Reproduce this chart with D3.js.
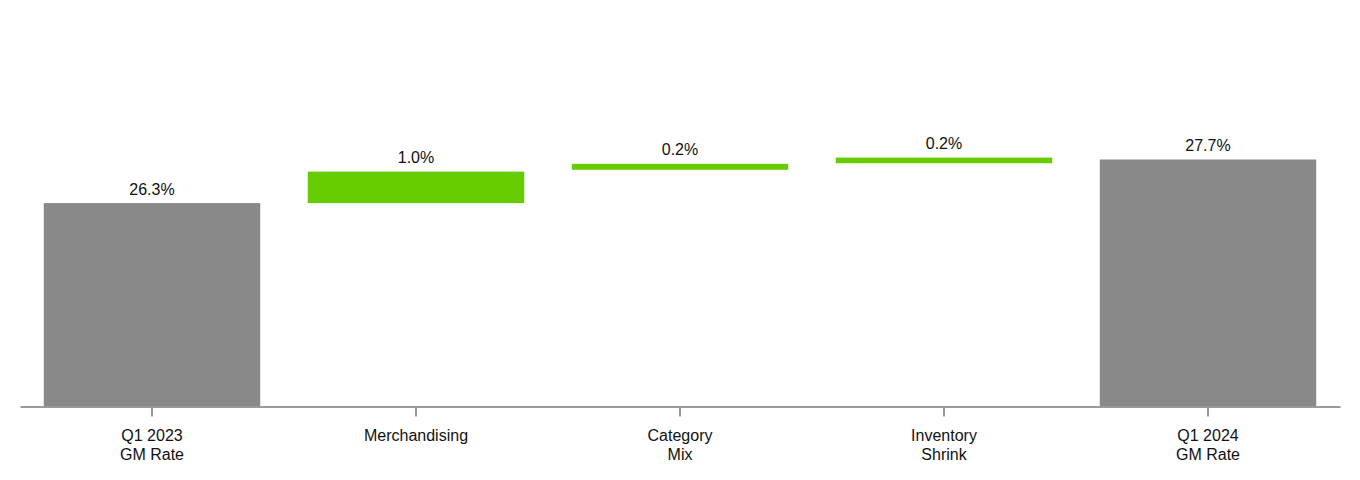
<!DOCTYPE html>
<html>
<head>
<meta charset="utf-8">
<script src="https://cdn.jsdelivr.net/npm/d3@7"></script>
<style>
  html, body { margin: 0; padding: 0; background: #fff; }
  svg { display: block; }
  text { font-family: "Liberation Sans", Arial, sans-serif; }
</style>
</head>
<body>
<svg id="chart" width="1360" height="480"></svg>
<script>
// ---- data ----
const categories = ["Q1 2023\nGM Rate", "Merchandising", "Category\nMix", "Inventory\nShrink", "Q1 2024\nGM Rate"];
const barKinds   = ["total", "delta", "delta", "delta", "total"];
const barLows    = [19.77, 26.30, 27.37, 27.58, 19.77];
const barHighs   = [26.30, 27.31, 27.56, 27.76, 27.70];
const barLabels  = ["26.3%", "1.0%", "0.2%", "0.2%", "27.7%"];
const yDomain    = [19.77, 32.82];

const colors = { total: "#898989", delta: "#66cc00" };

const svg = d3.select("#chart");
const x = d3.scaleBand().domain(categories).range([20, 1340]).paddingInner(0.18).paddingOuter(0.09);
const y = d3.scaleLinear().domain(yDomain).range([406.5, 0]);

const data = categories.map((c, i) => ({ c, kind: barKinds[i], lo: barLows[i], hi: barHighs[i], label: barLabels[i] }));

svg.append("g").selectAll("rect").data(data).join("rect")
  .attr("x", d => x(d.c))
  .attr("width", x.bandwidth())
  .attr("y", d => y(d.hi))
  .attr("height", d => y(d.lo) - y(d.hi))
  .attr("fill", d => colors[d.kind]);

svg.append("g").selectAll("text").data(data).join("text")
  .attr("x", d => x(d.c) + x.bandwidth() / 2)
  .attr("y", d => y(d.hi) - 8.5)
  .attr("text-anchor", "middle")
  .attr("font-size", 16)
  .attr("fill", "#111")
  .text(d => d.label);

const axis = svg.append("g")
  .attr("transform", `translate(0,${y(yDomain[0])})`)
  .call(d3.axisBottom(x).tickSize(10).tickSizeOuter(0).tickPadding(0).tickFormat(""));
axis.select(".domain").attr("stroke", "#999").attr("stroke-width", 2);
axis.selectAll(".tick line").attr("stroke", "#999").attr("stroke-width", 2);

axis.selectAll(".tick").each(function(d) {
  const lines = d.split("\n");
  const t = d3.select(this).append("text")
    .attr("text-anchor", "middle")
    .attr("font-size", 16)
    .attr("fill", "#111");
  lines.forEach((ln, i) => {
    t.append("tspan").attr("x", 0).attr("y", 34 + i * 19.5).text(ln);
  });
});
</script>
</body>
</html>
